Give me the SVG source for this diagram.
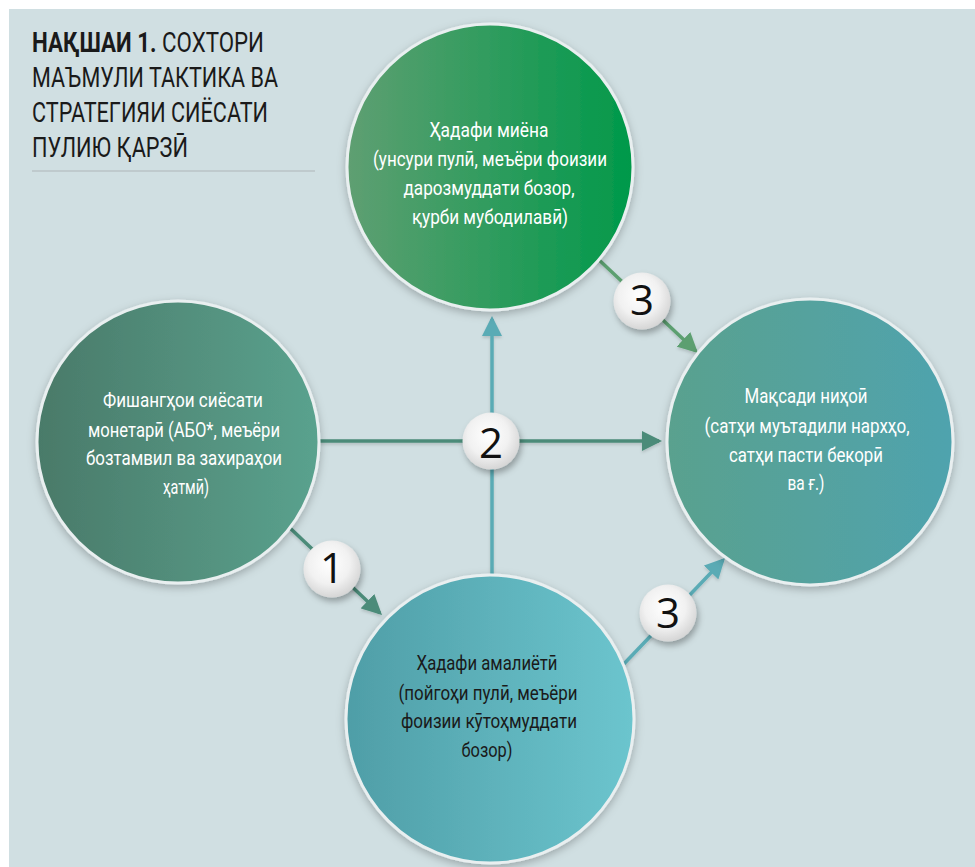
<svg xmlns="http://www.w3.org/2000/svg" width="975" height="867" viewBox="0 0 975 867">
  <defs>
    <style>
      .title { font-family: Roboto, "Liberation Sans", sans-serif; font-size: 27px; fill: #1a1a1a; }
      .tb { font-weight: bold; }
      .ct { font-family: Roboto, "Liberation Sans", sans-serif; font-size: 21px; text-anchor: middle; }
      .w { fill: #ffffff; }
      .d { fill: #1a1a1a; }
      .num { font-family: "Open Sans", "DejaVu Sans", sans-serif; font-size: 42px; fill: #111111; text-anchor: middle; }
      .circle { stroke: #e9eff0; stroke-width: 3; filter: url(#shadow); }
      .badge { fill: url(#gBadge); filter: url(#bshadow); }
      .ln { fill: none; stroke-width: 3.5; filter: url(#lshadow); }
    </style>
    <linearGradient id="gTop" x1="0" y1="0" x2="1" y2="0">
      <stop offset="0" stop-color="#5f9f72"/>
      <stop offset="1" stop-color="#00994a"/>
    </linearGradient>
    <linearGradient id="gLeft" x1="0" y1="0" x2="1" y2="0">
      <stop offset="0" stop-color="#4a7a69"/>
      <stop offset="1" stop-color="#5aa28e"/>
    </linearGradient>
    <linearGradient id="gRight" x1="0" y1="0" x2="1" y2="0">
      <stop offset="0" stop-color="#5aa18e"/>
      <stop offset="1" stop-color="#4fa3ae"/>
    </linearGradient>
    <linearGradient id="gBottom" x1="0" y1="0" x2="1" y2="0">
      <stop offset="0" stop-color="#4f9ea7"/>
      <stop offset="1" stop-color="#6cc5ce"/>
    </linearGradient>
    <radialGradient id="gBadge" cx="0.45" cy="0.4" r="0.6">
      <stop offset="0" stop-color="#ffffff"/>
      <stop offset="0.6" stop-color="#f1f1f1"/>
      <stop offset="1" stop-color="#d6d6d6"/>
    </radialGradient>
    <filter id="shadow" x="-20%" y="-20%" width="140%" height="140%">
      <feDropShadow dx="0" dy="3" stdDeviation="4" flood-color="#000000" flood-opacity="0.25"/>
    </filter>
    <filter id="bshadow" x="-40%" y="-40%" width="180%" height="180%">
      <feDropShadow dx="2" dy="4" stdDeviation="3" flood-color="#000000" flood-opacity="0.3"/>
    </filter>
    <filter id="lshadow" filterUnits="userSpaceOnUse" x="0" y="0" width="975" height="867">
      <feDropShadow dx="0" dy="2" stdDeviation="1.5" flood-color="#000000" flood-opacity="0.15"/>
    </filter>
    <marker id="aDark" markerUnits="userSpaceOnUse" markerWidth="20" markerHeight="20" refX="17" refY="10" orient="auto">
      <path d="M0,0 L20,10 L0,20 z" fill="#4b8b79"/>
    </marker>
    <marker id="aTeal" markerUnits="userSpaceOnUse" markerWidth="20" markerHeight="20" refX="17" refY="10" orient="auto">
      <path d="M0,0 L20,10 L0,20 z" fill="#5aabb5"/>
    </marker>
    <marker id="aGreen" markerUnits="userSpaceOnUse" markerWidth="20" markerHeight="20" refX="17" refY="10" orient="auto">
      <path d="M0,0 L20,10 L0,20 z" fill="#5c9f70"/>
    </marker>
  </defs>

  <rect x="0" y="0" width="975" height="867" fill="#ffffff"/>
  <rect x="9" y="9" width="966" height="858" fill="#d0dfe2"/>

  <g id="title">
    <text class="title" x="32" y="52" textLength="232" lengthAdjust="spacingAndGlyphs"><tspan class="tb">НАҚШАИ 1.</tspan> СОХТОРИ</text>
    <text class="title" x="32" y="87" textLength="246" lengthAdjust="spacingAndGlyphs">МАЪМУЛИ ТАКТИКА ВА</text>
    <text class="title" x="32" y="122" textLength="236" lengthAdjust="spacingAndGlyphs">СТРАТЕГИЯИ СИЁСАТИ</text>
    <text class="title" x="32" y="157" textLength="156" lengthAdjust="spacingAndGlyphs">ПУЛИЮ ҚАРЗӢ</text>
    <line x1="32" y1="171" x2="315" y2="171" stroke="#bfcacd" stroke-width="2"/>
  </g>

  <g id="connectors">
    <path class="ln" d="M318,441 L659,441" stroke="#4b8b79" marker-end="url(#aDark)"/>
    <path class="ln" d="M492,575 L492,319" stroke="#5aabb5" marker-end="url(#aTeal)"/>
    <path class="ln" d="M290,528 L379.8,612.9" stroke="#4b8b79" marker-end="url(#aDark)"/>
    <path class="ln" d="M597,258 L695.8,351" stroke="#5c9f70" marker-end="url(#aGreen)"/>
    <path class="ln" d="M620,668 L722.9,560.2" stroke="#5aabb5" marker-end="url(#aTeal)"/>
  </g>

  <g id="node-top">
    <circle class="circle" cx="490" cy="167" r="143" fill="url(#gTop)"/>
    <text class="ct w" x="489" y="137" textLength="119" lengthAdjust="spacingAndGlyphs">Ҳадафи миёна</text>
    <text class="ct w" x="490" y="166" textLength="234" lengthAdjust="spacingAndGlyphs">(унсури пулӣ, меъёри фоизии</text>
    <text class="ct w" x="489" y="195" textLength="171" lengthAdjust="spacingAndGlyphs">дарозмуддати бозор,</text>
    <text class="ct w" x="490" y="224" textLength="156" lengthAdjust="spacingAndGlyphs">қурби мубодилавӣ)</text>
  </g>

  <g id="node-left">
    <circle class="circle" cx="178" cy="442" r="141" fill="url(#gLeft)"/>
    <text class="ct w" x="183" y="407" textLength="160" lengthAdjust="spacingAndGlyphs">Фишангҳои сиёсати</text>
    <text class="ct w" x="184" y="437" textLength="192" lengthAdjust="spacingAndGlyphs">монетарӣ (АБО*, меъёри</text>
    <text class="ct w" x="184" y="465" textLength="196" lengthAdjust="spacingAndGlyphs">бозтамвил ва захираҳои</text>
    <text class="ct w" x="186" y="494" textLength="46" lengthAdjust="spacingAndGlyphs">ҳатмӣ)</text>
  </g>

  <g id="node-right">
    <circle class="circle" cx="810" cy="442" r="143" fill="url(#gRight)"/>
    <text class="ct w" x="806" y="403" textLength="123" lengthAdjust="spacingAndGlyphs">Мақсади ниҳоӣ</text>
    <text class="ct w" x="807" y="433" textLength="205" lengthAdjust="spacingAndGlyphs">(сатҳи муътадили нархҳо,</text>
    <text class="ct w" x="806" y="462" textLength="154" lengthAdjust="spacingAndGlyphs">сатҳи пасти бекорӣ</text>
    <text class="ct w" x="806" y="490" textLength="37" lengthAdjust="spacingAndGlyphs">ва ғ.)</text>
  </g>

  <g id="node-bottom">
    <circle class="circle" cx="490" cy="719" r="144" fill="url(#gBottom)"/>
    <text class="ct d" x="487" y="670" textLength="141" lengthAdjust="spacingAndGlyphs">Ҳадафи амалиётӣ</text>
    <text class="ct d" x="488" y="700" textLength="179" lengthAdjust="spacingAndGlyphs">(пойгоҳи пулӣ, меъёри</text>
    <text class="ct d" x="489" y="728" textLength="176" lengthAdjust="spacingAndGlyphs">фоизии кӯтоҳмуддати</text>
    <text class="ct d" x="487" y="757" textLength="51" lengthAdjust="spacingAndGlyphs">бозор)</text>
  </g>

  <g id="badges">
    <g id="badge-1">
      <circle class="badge" cx="332" cy="569" r="28.5"/>
      <text class="num" x="332" y="583">1</text>
    </g>
    <g id="badge-2">
      <circle class="badge" cx="491" cy="441" r="28.5"/>
      <text class="num" x="491" y="458">2</text>
    </g>
    <g id="badge-3a">
      <circle class="badge" cx="642" cy="301" r="28.5"/>
      <text class="num" x="642" y="315">3</text>
    </g>
    <g id="badge-3b">
      <circle class="badge" cx="668" cy="613" r="28.5"/>
      <text class="num" x="668" y="628">3</text>
    </g>
  </g>
</svg>
